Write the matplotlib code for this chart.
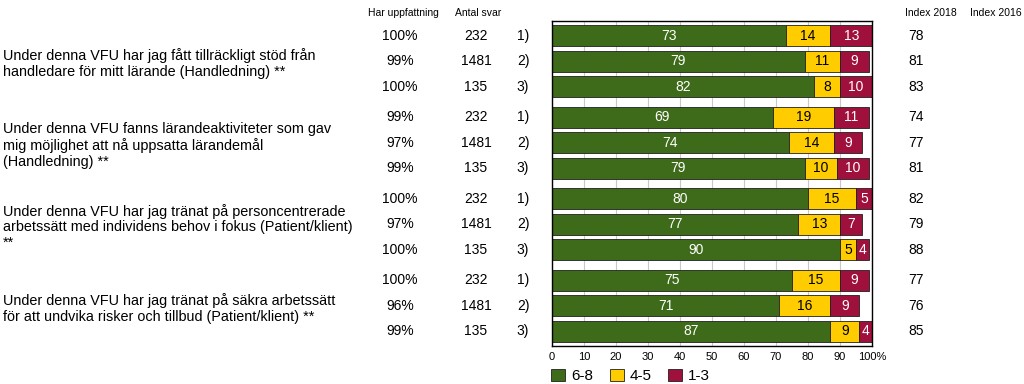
import numpy as np
import matplotlib.pyplot as plt
from matplotlib.transforms import blended_transform_factory
from matplotlib.patches import Patch

plt.rcParams["font.family"] = ["Liberation Sans", "DejaVu Sans"]

questions = [
    "Under denna VFU har jag fått tillräckligt stöd från\nhandledare för mitt lärande (Handledning) **",
    "Under denna VFU fanns lärandeaktiviteter som gav\nmig möjlighet att nå uppsatta lärandemål\n(Handledning) **",
    "Under denna VFU har jag tränat på personcentrerade\narbetssätt med individens behov i fokus (Patient/klient)\n**",
    "Under denna VFU har jag tränat på säkra arbetssätt\nför att undvika risker och tillbud (Patient/klient) **",
]
group_labels = ["1)", "2)", "3)"]

high = [73, 79, 82, 69, 74, 79, 80, 77, 90, 75, 71, 87]
mid = [14, 11, 8, 19, 14, 10, 15, 13, 5, 15, 16, 9]
low = [13, 9, 10, 11, 9, 10, 5, 7, 4, 9, 9, 4]

har_uppfattning = ["100%", "99%", "100%", "99%", "97%", "99%",
                   "100%", "97%", "100%", "100%", "96%", "99%"]
antal_svar = [232, 1481, 135, 232, 1481, 135, 232, 1481, 135, 232, 1481, 135]
index_2018 = [78, 81, 83, 74, 77, 81, 82, 79, 88, 77, 76, 85]

series_names = ["6-8", "4-5", "1-3"]
colors = ["#3e6b1a", "#ffcc00", "#a0103c"]
text_colors = ["white", "black", "white"]

group_step = 3.18
ypos = np.array([g * group_step + i for g in range(4) for i in range(3)])

fig = plt.figure(figsize=(10.24, 3.84), dpi=100)
ax = fig.add_axes([552 / 1024, 1 - 346 / 384, 320 / 1024, 325 / 384])

ax.set_axisbelow(True)
ax.grid(True, axis="x", color="#c8c8c8", linewidth=0.8)

left = np.zeros(len(high))
for vals, col, tc, name in zip([high, mid, low], colors, text_colors, series_names):
    vals = np.array(vals)
    ax.barh(ypos, vals, left=left, height=0.82, color=col,
            edgecolor="#202020", linewidth=0.6, label=name)
    for y, l, v in zip(ypos, left, vals):
        ax.text(l + v / 2, y, str(v), ha="center", va="center",
                color=tc, fontsize=10)
    left = left + vals

ax.set_xlim(0, 100)
ax.set_ylim(ypos[-1] + 0.57, ypos[0] - 0.57)
ax.set_yticks([])
ax.set_xticks(range(0, 101, 10))
ax.set_xticklabels([str(t) for t in range(0, 100, 10)] + ["100%"], fontsize=8)
ax.tick_params(axis="x", length=0, pad=4)
for s in ax.spines.values():
    s.set_color("black")
    s.set_linewidth(1)

tr = blended_transform_factory(fig.transFigure, ax.transData)
for i, y in enumerate(ypos):
    fig.text(400 / 1024, y, har_uppfattning[i], transform=tr, ha="center", va="center", fontsize=10)
    fig.text(476 / 1024, y, str(antal_svar[i]), transform=tr, ha="center", va="center", fontsize=10)
    fig.text(523 / 1024, y, group_labels[i % 3], transform=tr, ha="center", va="center", fontsize=10)
    fig.text(916 / 1024, y, str(index_2018[i]), transform=tr, ha="center", va="center", fontsize=10)

for g, q in enumerate(questions):
    fig.text(3 / 1024, ypos[g * 3 + 1] + 0.1, q, transform=tr, ha="left", va="center",
             fontsize=10.4, linespacing=1.15)

for x, h in [(403, "Har uppfattning"), (478, "Antal svar"), (931, "Index 2018"), (996, "Index 2016")]:
    fig.text(x / 1024, 1 - 13 / 384, h, ha="center", va="center", fontsize=7.5)

handles = [Patch(facecolor=c, edgecolor="#202020", linewidth=0.6) for c in colors]
fig.legend(handles, series_names, loc="center left", bbox_to_anchor=(545 / 1024, 1 - 376 / 384),
           ncol=3, frameon=False, fontsize=11, handlelength=0.9, handleheight=0.9,
           handletextpad=0.4, columnspacing=1.1, borderaxespad=0)

fig.savefig("out.png", dpi=100)
